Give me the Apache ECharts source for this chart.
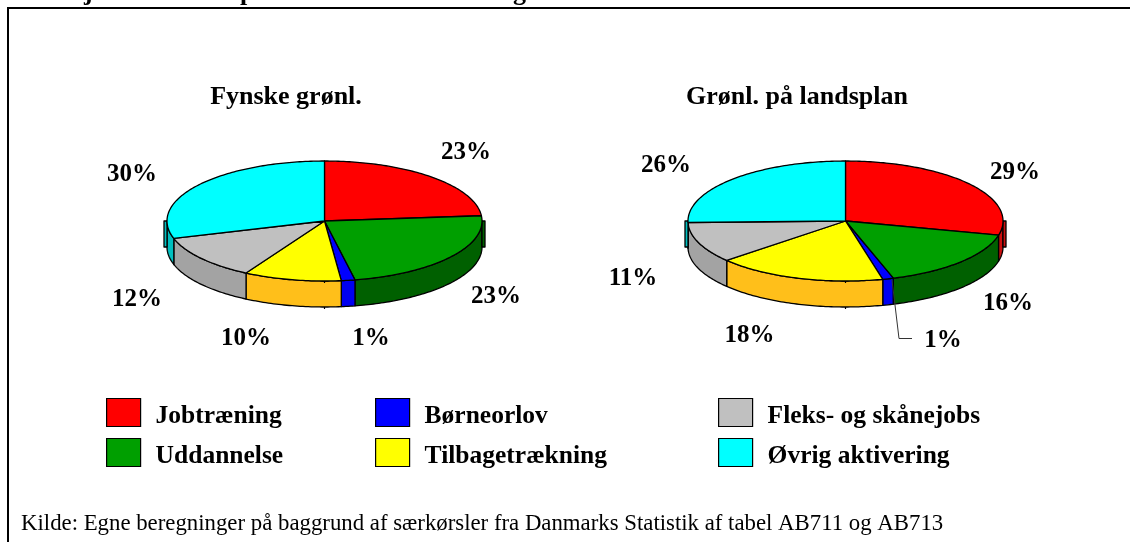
<!DOCTYPE html>
<html>
<head>
<meta charset="utf-8">
<style>html,body{margin:0;padding:0;background:#fff}#c{width:1130px;height:542px}</style>
<script src="https://cdn.jsdelivr.net/npm/echarts@6/dist/echarts.min.js"></script>
</head>
<body>
<div id="c"></div>
<script>
// ---- data ----
const categories = ['Jobtræning','Uddannelse','Børneorlov','Tilbagetrækning','Fleks- og skånejobs','Øvrig aktivering'];
const pieTitles = ['Fynske grønl.','Grønl. på landsplan'];
// slice sizes estimated from the drawn angles (percent)
const fynskeValues = [23.6,23.3,1.4,10.0,12.0,29.7];
const landsplanValues = [28.8,16.3,1.1,17.4,11.0,25.4];
// the labels as printed on the chart
const fynskeLabels = ['23%','23%','1%','10%','12%','30%'];
const landsplanLabels = ['29%','16%','1%','18%','11%','26%'];
const sourceNote = 'Kilde: Egne beregninger på baggrund af særkørsler fra Danmarks Statistik af tabel AB711 og AB713';
const clippedHeading = 'Aktivjobs fordeltes på alle de enkelte ordninger i året 2005';

// ---- styling & layout ----
const topColors = ['#ff0000','#009f00','#0000ff','#ffff00','#c0c0c0','#00ffff'];
const wallColors = ['#cc1010','#006000','#0000f0','#ffbf1a','#a3a3a3','#00bfbf'];
const pies = [
  {cx:324.5, cy:221, values:fynskeValues, labels:fynskeLabels, title:[286,97],
   labelPos:[[466,152.5],[496,296.5],[371,338.5],[246,338.5],[137,299.5],[132,174.5]]},
  {cx:845.5, cy:221, values:landsplanValues, labels:landsplanLabels, title:[797,97],
   labelPos:[[1015,172.5],[1008,303.5],[943,340.5],[749.5,335.5],[633,278.5],[666,165.5]]}
];
const RX = 157.5, RY = 60, DEPTH = 26;
const SERIF = '"Liberation Serif","Times New Roman",serif';
const LABEL_FONT = 'bold 25px ' + SERIF;

function slicePoints(p, a0, a1, dy) {
  const pts = [];
  const n = Math.max(2, Math.ceil(a1 - a0));
  for (let i = 0; i <= n; i++) {
    const a = (a0 + (a1 - a0) * i / n) * Math.PI / 180;
    pts.push([p.cx + RX * Math.sin(a), p.cy - RY * Math.cos(a) + dy]);
  }
  return pts;
}

function makeRender(catIndex) {
  return function (params, api) {
    const pieIdx = api.value(0);
    const startShare = api.value(1), share = api.value(2);
    const p = pies[pieIdx];
    const a0 = startShare * 3.6, a1 = (startShare + share) * 3.6;
    const children = [];
    const stroke = {stroke:'#000', lineWidth:1.3, lineJoin:'round'};
    const w0 = Math.max(a0, 90), w1 = Math.min(a1, 270);
    if (w1 > w0) {
      const top = slicePoints(p, w0, w1, 0);
      const bottom = slicePoints(p, w0, w1, DEPTH).reverse();
      children.push({type:'polygon', shape:{points:top.concat(bottom)},
        style:Object.assign({fill:wallColors[catIndex]}, stroke)});
    }
    [[90,1],[270,-1]].forEach(function (t) {
      if (a0 <= t[0] && a1 > t[0]) {
        const x = p.cx + t[1] * (RX + 1.5);
        children.push({type:'rect', shape:{x:x - 1.5, y:p.cy, width:3, height:DEPTH},
          style:Object.assign({fill:wallColors[catIndex]}, stroke)});
      }
    });
    children.push({type:'polygon',
      shape:{points:[[p.cx, p.cy]].concat(slicePoints(p, a0, a1, 0))},
      style:Object.assign({fill:topColors[catIndex]}, stroke)});
    // small notches where the rim crosses its lowest point
    if (a0 <= 180 && a1 > 180) {
      [0, DEPTH].forEach(function (dy) {
        children.push({type:'line', shape:{x1:p.cx, y1:p.cy + RY + dy, x2:p.cx, y2:p.cy + RY + dy + 2},
          style:{stroke:'#000', lineWidth:1.2}});
      });
    }
    const lp = p.labelPos[catIndex];
    children.push({type:'text', z2:10, style:{text:p.labels[catIndex], x:lp[0], y:lp[1],
      align:'center', verticalAlign:'middle', font:LABEL_FONT, fill:'#000'}});
    return {type:'group', children:children};
  };
}

const series = categories.map(function (name, c) {
  const rows = pies.map(function (p, i) {
    let start = 0;
    for (let k = 0; k < c; k++) start += p.values[k];
    return [i, start, p.values[c]];
  });
  return {type:'custom', name:name, coordinateSystem:'none', silent:true,
    itemStyle:{color:topColors[c]}, renderItem:makeRender(c), data:rows, animation:false};
});

function legendColumn(left, idx) {
  return {
    orient:'vertical', left:left, top:391, itemWidth:34, itemHeight:28, itemGap:7,
    selectedMode:false, icon:'rect',
    formatter:function (name) { return '{t|' + name + '}'; },
    textStyle:{
      rich:{t:{fontFamily:SERIF, fontWeight:'bold', fontSize:25.5, color:'#000',
        padding:[7,0,0,10], lineHeight:28}}
    },
    data:idx.map(function (i) {
      return {name:categories[i], icon:'rect',
        itemStyle:{color:topColors[i], borderColor:'#000', borderWidth:1.2}};
    })
  };
}

const graphic = [
  {type:'line', z:50, shape:{x1:8,y1:8,x2:8,y2:542}, style:{stroke:'#000',lineWidth:2}},
  {type:'line', z:50, shape:{x1:7,y1:8,x2:1130,y2:8}, style:{stroke:'#000',lineWidth:2}},
  {type:'text', z:50, style:{text:clippedHeading, x:22, y:6, verticalAlign:'bottom',
    font:'bold 26px '+SERIF, fill:'#000'}},
  {type:'text', z:50, style:{text:pieTitles[0], x:pies[0].title[0], y:pies[0].title[1], align:'center', verticalAlign:'middle',
    font:'bold 26px '+SERIF, fill:'#000'}},
  {type:'text', z:50, style:{text:pieTitles[1], x:pies[1].title[0], y:pies[1].title[1], align:'center', verticalAlign:'middle',
    font:'bold 26px '+SERIF, fill:'#000'}},
  {type:'text', z:50, style:{text:sourceNote, x:21, y:524, verticalAlign:'middle',
    font:'22.8px '+SERIF, fill:'#000'}},
  {type:'polyline', z:50, shape:{points:[[892,280],[899,338.5],[912,338.5]]},
    style:{stroke:'#333',lineWidth:1,fill:null}}
];

const chart = echarts.init(document.getElementById('c'), null, {renderer:'canvas'});
chart.setOption({
  animation:false,
  backgroundColor:'#fff',
  legend:[legendColumn(101,[0,1]), legendColumn(370,[2,3]), legendColumn(713,[4,5])],
  series:series,
  graphic:graphic
});
</script>
</body>
</html>
